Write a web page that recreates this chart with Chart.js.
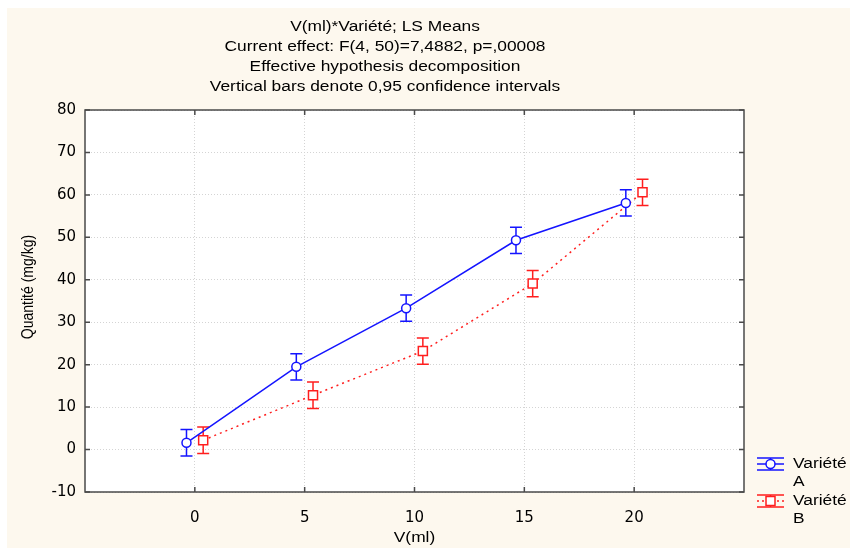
<!DOCTYPE html>
<html>
<head>
<meta charset="utf-8">
<title>V(ml)*Variété; LS Means</title>
<script src="https://cdn.jsdelivr.net/npm/chart.js@4.4.0/dist/chart.umd.min.js"></script>
<style>
  html, body { margin: 0; padding: 0; background: #fff; }
  #wrap { width: 850px; height: 548px; }
</style>
</head>
<body>
<div id="wrap"><canvas id="lsChart" width="850" height="548"></canvas></div>
<script>
// --- données ---
const volumes = [0, 5, 10, 15, 20];
const meansA = [1.6, 19.5, 33.3, 49.3, 58.1];
const meansB = [2.2, 12.8, 23.2, 39.1, 60.6];
const ciA = [3.1, 3.1, 3.1, 3.1, 3.1]; // demi-largeur IC 0,95
const ciB = [3.1, 3.1, 3.1, 3.1, 3.1];
const xTicks = [0, 5, 10, 15, 20];
const yTicks = [-10, 0, 10, 20, 30, 40, 50, 60, 70, 80];
const seriesNames = [['Variété', 'A'], ['Variété', 'B']];
const xTitle = 'V(ml)';
const yTitle = 'Quantité (mg/kg)';
const titleLines = [
    'V(ml)*Variété; LS Means',
    'Current effect: F(4, 50)=7,4882, p=,00008',
    'Effective hypothesis decomposition',
    'Vertical bars denote 0,95 confidence intervals'
];

const DODGE = 0.38; // décalage horizontal des deux séries
const STRETCH = 1.24; // l'export d'origine est étiré en largeur
const FONT = "'Liberation Sans', Arial, sans-serif";
const TICK_FONT = "'DejaVu Sans', 'Liberation Sans', sans-serif";
const BLUE = '#1414ff';
const RED = '#ff1e1e';

function points(means, shift) {
    return volumes.map((v, i) => ({ x: v + shift, y: means[i] }));
}

// texte un peu élargi, comme sur l'export d'origine
function wideText(ctx, text, x, y, align) {
    ctx.save();
    ctx.translate(x, y);
    ctx.scale(STRETCH, 1);
    ctx.textAlign = align;
    ctx.fillText(text, 0, 0);
    ctx.restore();
}

// fond crème + zone blanche
const backgroundPlugin = {
    id: 'fond',
    beforeDraw(chart) {
        const { ctx, chartArea: a } = chart;
        ctx.save();
        ctx.fillStyle = '#ffffff';
        ctx.fillRect(0, 0, chart.width, chart.height);
        ctx.fillStyle = '#fdf8ee';
        ctx.fillRect(7, 8, chart.width - 7, chart.height - 8);
        ctx.fillStyle = '#ffffff';
        ctx.fillRect(a.left, a.top, a.right - a.left, a.bottom - a.top);
        ctx.restore();
    }
};

// barres d'erreur (IC)
const errorBarsPlugin = {
    id: 'barresErreur',
    beforeDatasetsDraw(chart) {
        const { ctx } = chart;
        const yScale = chart.scales.y;
        chart.data.datasets.forEach((ds, i) => {
            const meta = chart.getDatasetMeta(i);
            ctx.save();
            ctx.strokeStyle = ds.borderColor;
            ctx.lineWidth = 1.5;
            meta.data.forEach((pt, j) => {
                const m = ds.data[j].y;
                const top = yScale.getPixelForValue(m + ds.ci[j]);
                const bot = yScale.getPixelForValue(m - ds.ci[j]);
                ctx.beginPath();
                ctx.moveTo(pt.x, top); ctx.lineTo(pt.x, bot);
                ctx.moveTo(pt.x - 6, top); ctx.lineTo(pt.x + 6, top);
                ctx.moveTo(pt.x - 6, bot); ctx.lineTo(pt.x + 6, bot);
                ctx.stroke();
            });
            ctx.restore();
        });
    }
};

// cadre, graduations intérieures, titres, légende
const decorPlugin = {
    id: 'decor',
    afterDraw(chart) {
        const { ctx, chartArea: a } = chart;
        const xs = chart.scales.x, ys = chart.scales.y;
        ctx.save();
        ctx.strokeStyle = '#4a4a4a';
        ctx.lineWidth = 1.5;
        ctx.strokeRect(a.left, a.top, a.right - a.left, a.bottom - a.top);
        ctx.beginPath();
        xTicks.forEach(v => {
            const px = xs.getPixelForValue(v);
            ctx.moveTo(px, a.bottom); ctx.lineTo(px, a.bottom - 5);
            ctx.moveTo(px, a.top); ctx.lineTo(px, a.top + 5);
        });
        yTicks.forEach(v => {
            const py = ys.getPixelForValue(v);
            ctx.moveTo(a.left, py); ctx.lineTo(a.left + 5, py);
            ctx.moveTo(a.right, py); ctx.lineTo(a.right - 5, py);
        });
        ctx.stroke();

        // titre
        ctx.fillStyle = '#000';
        ctx.font = '14px ' + FONT;
        ctx.textBaseline = 'middle';
        titleLines.forEach((t, i) => wideText(ctx, t, 385, 27 + i * 20, 'center'));

        // titres des axes
        wideText(ctx, xTitle, (a.left + a.right) / 2, 538, 'center');
        ctx.save();
        ctx.translate(28, 287);
        ctx.rotate(-Math.PI / 2);
        ctx.scale(1, STRETCH);
        ctx.textAlign = 'center';
        ctx.fillText(yTitle, 0, 0);
        ctx.restore();

        // légende
        const items = [
            { color: BLUE, dash: [], style: 'circle', y: 464 },
            { color: RED, dash: [2, 3], style: 'rect', y: 501 }
        ];
        items.forEach((it, i) => {
            const x0 = 757, x1 = 784, cx = 770.5;
            ctx.strokeStyle = it.color;
            ctx.lineWidth = 1.5;
            ctx.setLineDash([]);
            ctx.beginPath();
            ctx.moveTo(x0, it.y - 6); ctx.lineTo(x1, it.y - 6);
            ctx.moveTo(x0, it.y + 6); ctx.lineTo(x1, it.y + 6);
            ctx.moveTo(cx, it.y - 6); ctx.lineTo(cx, it.y + 6);
            ctx.stroke();
            ctx.setLineDash(it.dash);
            ctx.beginPath();
            ctx.moveTo(x0, it.y); ctx.lineTo(x1, it.y);
            ctx.stroke();
            ctx.setLineDash([]);
            ctx.fillStyle = '#fff';
            ctx.beginPath();
            if (it.style === 'circle') ctx.arc(cx, it.y, 4.5, 0, Math.PI * 2);
            else ctx.rect(cx - 4.5, it.y - 4.5, 9, 9);
            ctx.fill();
            ctx.stroke();
            ctx.fillStyle = '#000';
            wideText(ctx, seriesNames[i][0], 793, it.y, 'left');
            wideText(ctx, seriesNames[i][1], 793, it.y + 18, 'left');
        });
        ctx.restore();
    }
};

const ctx = document.getElementById('lsChart').getContext('2d');
new Chart(ctx, {
    type: 'line',
    data: {
        datasets: [
            {
                label: seriesNames[0].join(' '),
                data: points(meansA, -DODGE),
                ci: ciA,
                borderColor: BLUE,
                borderWidth: 1.5,
                pointStyle: 'circle',
                pointRadius: 4.5,
                pointBorderWidth: 1.5,
                pointBackgroundColor: '#fff',
                pointBorderColor: BLUE,
                tension: 0
            },
            {
                label: seriesNames[1].join(' '),
                data: points(meansB, DODGE),
                ci: ciB,
                borderColor: RED,
                borderWidth: 1.5,
                borderDash: [2, 4],
                pointStyle: 'rect',
                pointRadius: 6.4,
                pointBorderWidth: 1.5,
                pointBackgroundColor: '#fff',
                pointBorderColor: RED,
                tension: 0
            }
        ]
    },
    options: {
        responsive: false,
        animation: false,
        layout: { padding: { top: 110, right: 106, left: 0, bottom: 0 } },
        plugins: {
            legend: { display: false },
            title: { display: false },
            tooltip: { enabled: false }
        },
        scales: {
            x: {
                type: 'linear',
                min: -5,
                max: 25,
                afterBuildTicks: s => { s.ticks = xTicks.map(v => ({ value: v })); },
                afterFit: s => { s.height = 56; },
                ticks: { color: '#000', font: { family: TICK_FONT, size: 15 }, padding: 17 },
                grid: { color: '#d4d4d4', lineWidth: 1, drawTicks: false },
                border: { display: false, dash: [1, 2] }
            },
            y: {
                min: -10,
                max: 80,
                afterBuildTicks: s => { s.ticks = yTicks.map(v => ({ value: v })); },
                afterFit: s => { s.width = 85; },
                ticks: { color: '#000', font: { family: TICK_FONT, size: 15 }, padding: 9 },
                grid: { color: '#d4d4d4', lineWidth: 1, drawTicks: false },
                border: { display: false, dash: [1, 2] }
            }
        }
    },
    plugins: [backgroundPlugin, errorBarsPlugin, decorPlugin]
});
</script>
</body>
</html>
